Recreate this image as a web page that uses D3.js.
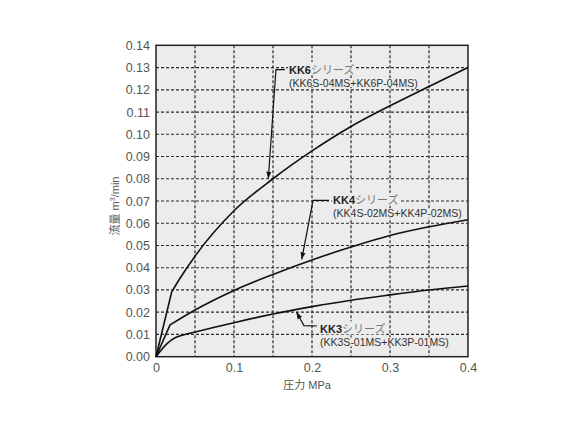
<!DOCTYPE html>
<html>
<head>
<meta charset="utf-8">
<script src="https://cdn.jsdelivr.net/npm/d3@7"></script>
<style>
  body { margin: 0; background: #fff; }
  svg text { font-family: "Liberation Sans", Arial, "Noto Sans CJK JP", sans-serif; }
</style>
</head>
<body>
<div id="chart"></div>
<script>
// Pressure (MPa) / flow (m3/min)
var kk6Press = [0, 0.02, 0.03, 0.05, 0.1, 0.15, 0.2, 0.25, 0.3, 0.35, 0.4];
var kk6Flow  = [0, 0.029, 0.0348, 0.0452, 0.0656, 0.080, 0.0925, 0.1035, 0.1128, 0.1215, 0.130];

var kk4Press = [0, 0.018, 0.05, 0.1, 0.15, 0.2, 0.25, 0.3, 0.35, 0.4];
var kk4Flow  = [0, 0.0143, 0.021, 0.0298, 0.037, 0.0435, 0.0493, 0.0545, 0.0584, 0.0616];

var kk3Press = [0, 0.0145, 0.025, 0.036, 0.049, 0.075, 0.1, 0.15, 0.2, 0.25, 0.3, 0.35, 0.4];
var kk3Flow  = [0, 0.006, 0.0086, 0.0099, 0.011, 0.0132, 0.0153, 0.0192, 0.0225, 0.0254, 0.0278, 0.030, 0.0318];

// does the curve start with a straight run up to a kink?
var seriesKink = [true, true, false];

var xTicks = [0, 0.1, 0.2, 0.3, 0.4];
var xTickLabels = ["0", "0.1", "0.2", "0.3", "0.4"];
var xGrid = [0.05, 0.1, 0.15, 0.2, 0.25, 0.3, 0.35];
var yTicks = d3.range(0, 15).map(function(i) { return i / 100; });

// Series labels: name, model text, leader path (data units), text anchor (data units)
var seriesNames = ["KK6", "KK4", "KK3"];
var seriesModels = ["(KK6S-04MS+KK6P-04MS)", "(KK4S-02MS+KK4P-02MS)", "(KK3S-01MS+KK3P-01MS)"];
var leaderPaths = [
  [[0.1654, 0.1291], [0.1538, 0.1291], [0.144, 0.0800]],
  [[0.2218, 0.0703], [0.2013, 0.0703], [0.1868, 0.0437]],
  [[0.2064, 0.0138], [0.1897, 0.0140], [0.1800, 0.0201]]
];
var labelPos = [[0.1705, 0.1291], [0.227, 0.0703], [0.2103, 0.0125]];

var width = 583, height = 437;
var plotLeft = 156, plotRight = 468, plotTop = 45.3, plotBottom = 356.7;
var plotBg = "#ececec";

var svg = d3.select("#chart").append("svg")
  .attr("width", width)
  .attr("height", height);

var x = d3.scaleLinear().domain([0, 0.4]).range([plotLeft, plotRight]);
var y = d3.scaleLinear().domain([0, 0.14]).range([plotBottom, plotTop]);

// Plot background
svg.append("rect")
  .attr("x", plotLeft).attr("y", plotTop)
  .attr("width", plotRight - plotLeft).attr("height", plotBottom - plotTop)
  .attr("fill", plotBg);

// Dashed grid
svg.append("g").selectAll("line").data(yTicks.slice(1, -1)).enter()
  .append("line")
  .attr("x1", plotLeft).attr("x2", plotRight)
  .attr("y1", function(d) { return y(d); })
  .attr("y2", function(d) { return y(d); })
  .attr("stroke", "#2a2a2a").attr("stroke-width", 1.2)
  .attr("stroke-dasharray", "3,2");

svg.append("g").selectAll("line").data(xGrid).enter()
  .append("line")
  .attr("y1", plotTop).attr("y2", plotBottom)
  .attr("x1", function(d) { return x(d); })
  .attr("x2", function(d) { return x(d); })
  .attr("stroke", "#2a2a2a").attr("stroke-width", 1.2)
  .attr("stroke-dasharray", "3,2");

// Axes (labels only, no tick marks)
var xAxis = d3.axisBottom(x).tickValues(xTicks).tickSize(0).tickPadding(6)
  .tickFormat(function(d, i) { return xTickLabels[i]; });
var yAxis = d3.axisLeft(y).tickValues(yTicks).tickSize(0).tickPadding(6)
  .tickFormat(d3.format(".2f"));

var gx = svg.append("g").attr("transform", "translate(0," + plotBottom + ")").call(xAxis);
var gy = svg.append("g").attr("transform", "translate(" + plotLeft + ",0)").call(yAxis);
[gx, gy].forEach(function(g) {
  g.select(".domain").remove();
  g.selectAll("text").attr("font-size", 12.5).attr("fill", "#555")
    .style("font-family", "'Liberation Sans', Arial, sans-serif");
});

// Series labels, with a patch of plot colour behind them to hide the grid
labelPos.forEach(function(p, i) {
  var g = svg.append("g");
  var t1 = g.append("text")
    .attr("x", x(p[0])).attr("y", y(p[1]) + 4)
    .attr("font-size", 11);
  t1.append("tspan").attr("font-weight", "bold").attr("fill", "#222").text(seriesNames[i]);
  t1.append("tspan").attr("fill", "#777")
    .style("font-family", "'Noto Sans CJK JP', sans-serif").text("シリーズ");
  var t2 = g.append("text")
    .attr("x", x(p[0])).attr("y", y(p[1]) + 17)
    .attr("font-size", 10.5).attr("fill", "#333")
    .text(seriesModels[i]);
  [t1, t2].forEach(function(t) {
    var b = t.node().getBBox();
    g.insert("rect", "text")
      .attr("x", b.x - 1).attr("y", b.y + 1.5)
      .attr("width", b.width + 2).attr("height", b.height - 3)
      .attr("fill", plotBg);
  });
});

// Border
svg.append("rect")
  .attr("x", plotLeft).attr("y", plotTop)
  .attr("width", plotRight - plotLeft).attr("height", plotBottom - plotTop)
  .attr("fill", "none").attr("stroke", "#222").attr("stroke-width", 1.5);

// Curves
var line = d3.line()
  .x(function(d) { return x(d[0]); })
  .y(function(d) { return y(d[1]); })
  .curve(d3.curveMonotoneX);

[[kk6Press, kk6Flow], [kk4Press, kk4Flow], [kk3Press, kk3Flow]].forEach(function(s, k) {
  var pts = s[0].map(function(p, i) { return [p, s[1][i]]; });
  var d;
  if (seriesKink[k]) {
    // straight run from the origin, smooth curve after the kink
    d = "M" + x(pts[0][0]) + "," + y(pts[0][1]) + "L" + line(pts.slice(1)).slice(1);
  } else {
    d = line(pts);
  }
  svg.append("path")
    .attr("d", d)
    .attr("fill", "none")
    .attr("stroke", "#111")
    .attr("stroke-width", 1.6);
});

// Arrowhead
svg.append("defs").append("marker")
  .attr("id", "arrow")
  .attr("viewBox", "0 0 10 10")
  .attr("refX", 10).attr("refY", 5)
  .attr("markerWidth", 6).attr("markerHeight", 6)
  .attr("orient", "auto")
  .append("path").attr("d", "M0,1.5 L10,5 L0,8.5 Z").attr("fill", "#111");

var leader = d3.line()
  .x(function(d) { return x(d[0]); })
  .y(function(d) { return y(d[1]); });

leaderPaths.forEach(function(p) {
  svg.append("path")
    .attr("d", leader(p))
    .attr("fill", "none")
    .attr("stroke", "#111")
    .attr("stroke-width", 1.2)
    .attr("marker-end", "url(#arrow)");
});

// Axis titles
svg.append("text")
  .attr("x", 307).attr("y", 389)
  .attr("text-anchor", "middle")
  .attr("font-size", 11).attr("fill", "#555")
  .text("圧力 MPa");

var yt = svg.append("text")
  .attr("transform", "translate(119," + ((plotTop + plotBottom) / 2 + 5) + ") rotate(-90)")
  .attr("text-anchor", "middle")
  .attr("font-size", 11).attr("fill", "#555");
yt.append("tspan").text("流量 m");
yt.append("tspan").attr("font-size", 7).attr("dy", -4).text("3");
yt.append("tspan").attr("dy", 4).text("/min");
</script>
</body>
</html>
